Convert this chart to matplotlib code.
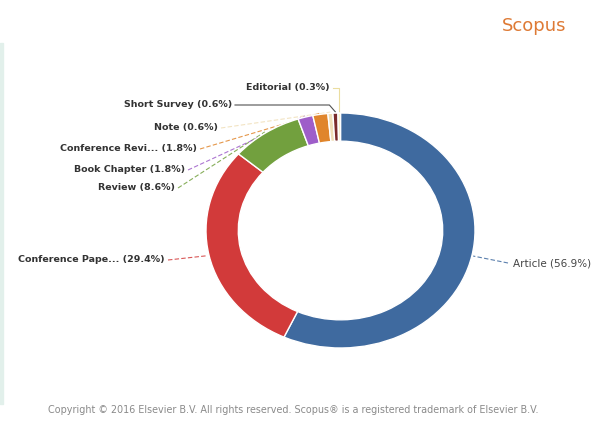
"""
Scopus document-type breakdown drawn as a donut chart with leader-line labels.
"""

import numpy as np
import matplotlib.pyplot as plt
from matplotlib.patches import Rectangle

doc_types = [
    "Article",
    "Conference Paper",
    "Review",
    "Book Chapter",
    "Conference Review",
    "Note",
    "Short Survey",
    "Editorial",
]
short_names = [
    "Article",
    "Conference Pape...",
    "Review",
    "Book Chapter",
    "Conference Revi...",
    "Note",
    "Short Survey",
    "Editorial",
]
shares = [56.9, 29.4, 8.6, 1.8, 1.8, 0.6, 0.6, 0.3]

colors = ["#3f6a9f", "#d23a3a", "#72a03e", "#9e5ec9",
          "#e0852b", "#f0dfb8", "#7a2b2b", "#f5efc4"]

# label anchor in pixels (x of the text end nearest the ring, baseline-ish y)
label_pos = [(513, 263), (165, 260), (175, 188), (185, 170),
             (197, 149), (218, 128), (232, 105), (330, 88)]

W, H = 603, 425
cx, cy = 340.5, 230.5   # ring centre in pixels
rx, ry = 134.5, 117.5   # outer radii in pixels (the ring is squashed)


def to_data(px, py):
    return (px - cx) / rx, (cy - py) / ry


if __name__ == "__main__":
    fig = plt.figure(figsize=(W / 100, H / 100), dpi=100)
    ax = fig.add_axes([0, 0, 1, 1])

    wedges, _ = ax.pie(
        shares,
        colors=colors,
        startangle=90,
        counterclock=False,
        radius=1.0,
        wedgeprops=dict(width=0.24, edgecolor="white", linewidth=1.0),
    )
    for w in wedges:
        w.set_zorder(3)

    ax.set_aspect("auto")
    ax.set_xlim(-cx / rx, (W - cx) / rx)
    ax.set_ylim((cy - H) / ry, cy / ry)
    ax.axis("off")

    # labels and connectors
    for w, name, val, (px, py), col in zip(wedges, short_names, shares,
                                         label_pos, colors):
        mid = np.deg2rad((w.theta1 + w.theta2) / 2)
        sx, sy = np.cos(mid) * 1.01, np.sin(mid) * 1.01
        text = f"{name} ({val:.1f}%)"
        lx, ly = to_data(px, py)
        if name == "Article":
            ax.text(lx, ly, text, ha="left", va="center", fontsize=7.5,
                    color="#444444", zorder=5)
            gx = lx - 5 / rx
        else:
            ax.text(lx, ly, text, ha="right", va="center", fontsize=6.8,
                    fontweight="bold", color="#333333", zorder=5)
            gx = lx + 3 / rx
        line_col = "#333333" if name == "Short Survey" else col
        style = "-" if name in ("Short Survey", "Editorial") else (0, (4, 2))
        if name == "Editorial":
            pts_x, pts_y = [gx, sx, sx], [ly, ly, sy]
            line_col = "#e8d890"
        elif name == "Short Survey":
            pts_x, pts_y = [gx, sx - 6 / rx, sx], [ly, ly, sy]
        else:
            pts_x, pts_y = [gx, sx], [ly, sy]
        ax.plot(pts_x, pts_y, color=line_col, lw=0.8, linestyle=style,
                alpha=0.85, zorder=2)

    # header and footer
    fig.text(534 / W, 1 - 26 / H, "Scopus", ha="center", va="center",
             fontsize=13, color="#de7a35")
    fig.text(293 / W, 1 - 410 / H,
             "Copyright \u00a9 2016 Elsevier B.V. All rights reserved. "
             "Scopus\u00ae is a registered trademark of Elsevier B.V.",
             ha="center", va="center", fontsize=6.9, color="#8a8a8a")

    # faint strip on the left edge
    fig.patches.append(Rectangle((0, 0.05), 3 / W, 0.85,
                                 transform=fig.transFigure,
                                 color="#e2f0eb", zorder=0))

    fig.savefig("out.png", dpi=100, facecolor="white")
